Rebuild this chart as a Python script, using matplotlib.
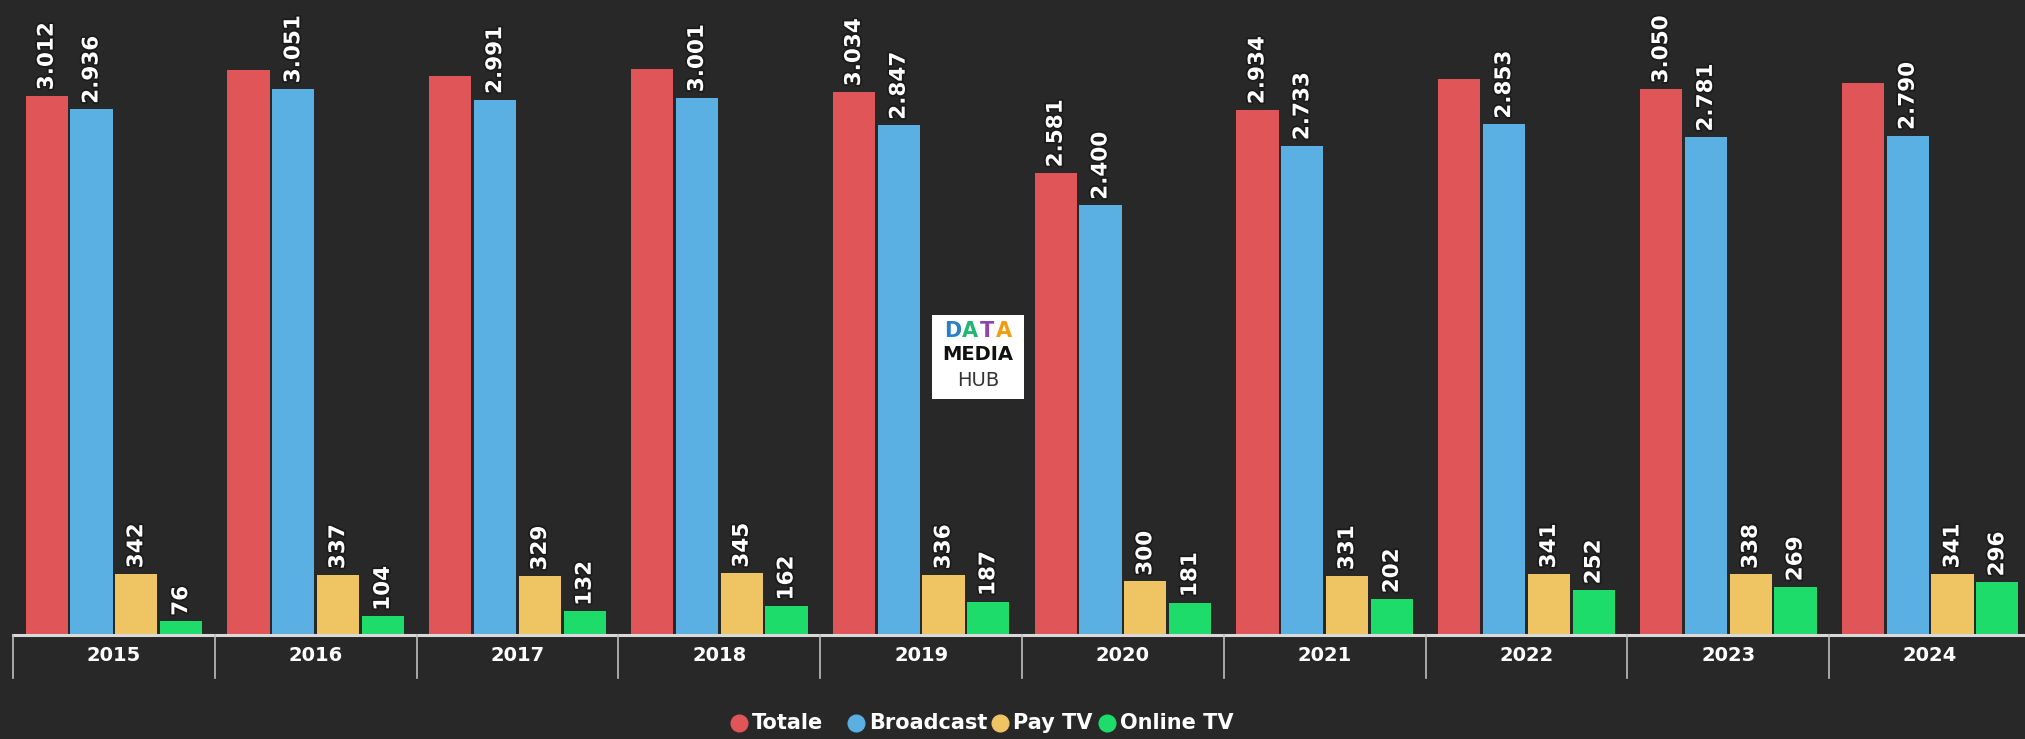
import matplotlib.pyplot as plt
import matplotlib.patheffects as pe
from matplotlib.patches import Rectangle
from matplotlib.lines import Line2D
import numpy as np

# Data (values in millions of euro)
years = ['2015', '2016', '2017', '2018', '2019', '2020', '2021', '2022', '2023', '2024']
totale = [3012, 3155, 3123, 3160, 3034, 2581, 2934, 3104, 3050, 3086]
broadcast = [2936, 3051, 2991, 3001, 2847, 2400, 2733, 2853, 2781, 2790]
pay_tv = [342, 337, 329, 345, 336, 300, 331, 341, 338, 341]
online_tv = [76, 104, 132, 162, 187, 181, 202, 252, 269, 296]
# totale labels hidden in the original where they would overlap
totale_shown = [True, False, False, False, True, True, True, False, True, False]

series_names = ['Totale', 'Broadcast', 'Pay TV', 'Online TV']
series_values = [totale, broadcast, pay_tv, online_tv]
series_colors = ['#e05557', '#5aafe3', '#efc462', '#1ddc6a']

bg = '#282828'
fig = plt.figure(figsize=(20.25, 7.39), dpi=100)
fig.patch.set_facecolor(bg)

# plot area: baseline at y=635px, spans full width
ax = fig.add_axes([13 / 2025, 104 / 739, 2018 / 2025, 635 / 739])
ax.set_facecolor('none')
ax.set_xlim(-0.5, 9.5)
ax.set_ylim(0, 3547)

x = np.arange(len(years))
width = 0.21
step = 0.222
outline = [pe.withStroke(linewidth=2.5, foreground='#1a1a1a')]

for i, (name, vals, col) in enumerate(zip(series_names, series_values, series_colors)):
    xs = x + (i - 1.5) * step
    ax.bar(xs, vals, width=width, color=col, edgecolor='none', zorder=2)
    for j, (xi, v) in enumerate(zip(xs, vals)):
        if i == 0 and not totale_shown[j]:
            continue
        lab = f'{v:,}'.replace(',', '.')
        ax.annotate(lab, (xi, v), xytext=(0, 4), textcoords='offset points',
                    rotation=90, ha='center', va='bottom', color='white',
                    fontsize=15.5, fontweight='bold', family='DejaVu Sans',
                    path_effects=outline, zorder=4)

# axis styling
for s in ax.spines.values():
    s.set_visible(False)
ax.set_yticks([])
ax.set_xticks([])
ax.axhline(0, color='#d9d9d9', lw=2.2, zorder=3, clip_on=False)
for b in np.arange(-0.5, 10, 1.0):
    ax.plot([b, b], [0, -240], color='#bfbfbf', lw=1.2, clip_on=False, zorder=3)
for xi, yr in zip(x, years):
    ax.text(xi, -115, yr, ha='center', va='center', color='white',
            fontsize=14, fontweight='bold')

# legend
circle_x = [739, 856, 1000, 1107]
for name, col, cx in zip(series_names, series_colors, circle_x):
    fig.add_artist(Line2D([cx / 2025], [16 / 739], transform=fig.transFigure,
                          marker='o', markersize=12, color=col, linestyle='none'))
    fig.text((cx + 13) / 2025, 16 / 739, name, ha='left', va='center', color='white',
             fontsize=15, fontweight='bold')

# logo box
fig.patches.append(Rectangle((932 / 2025, 340 / 739), 92 / 2025, 84 / 739,
                             transform=fig.transFigure, facecolor='white',
                             edgecolor='none', zorder=5))
logo_cols = ['#2a7fc9', '#22b573', '#8e44ad', '#f39c12']
for k, ch in enumerate('DATA'):
    fig.text((953 + k * 17) / 2025, 408 / 739, ch, ha='center', va='center',
             color=logo_cols[k], fontsize=15, fontweight='bold', zorder=6)
fig.text(978 / 2025, 384 / 739, 'MEDIA', ha='center', va='center', color='#111111',
         fontsize=14, fontweight='bold', zorder=6)
fig.text(978 / 2025, 358 / 739, 'HUB', ha='center', va='center', color='#333333',
         fontsize=14, zorder=6)

fig.savefig('out.png', dpi=100, facecolor=bg)
